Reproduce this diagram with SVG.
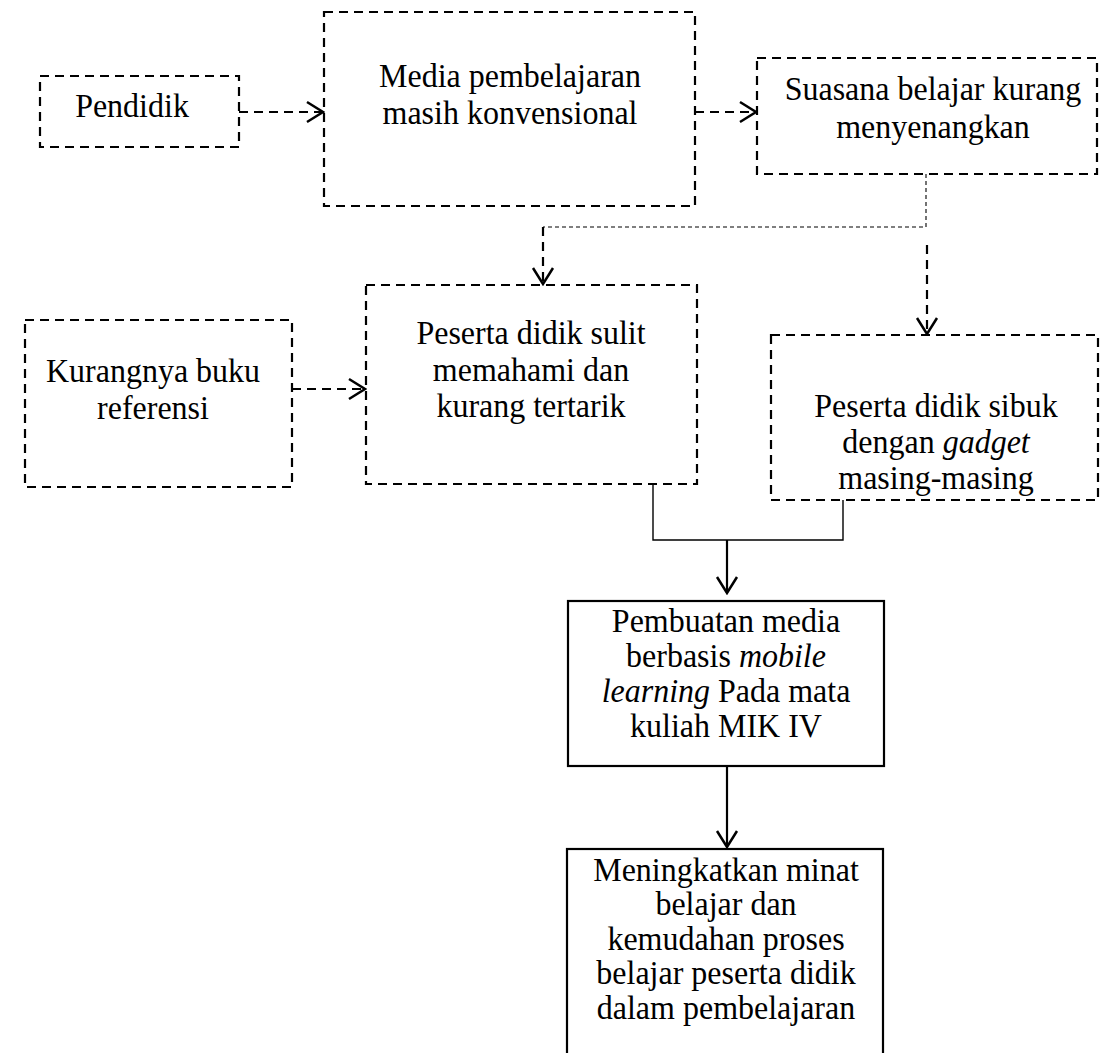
<svg xmlns="http://www.w3.org/2000/svg" width="1117" height="1053" viewBox="0 0 1117 1053">
<defs>
<marker id="arr" viewBox="0 0 20 24" refX="18" refY="12" markerWidth="20" markerHeight="24" markerUnits="userSpaceOnUse" orient="auto">
<path d="M2,2 L18,12 L2,22" fill="none" stroke="#000" stroke-width="2.5"/>
</marker>
</defs>
<style>
.db{fill:none;stroke:#000;stroke-width:2.2;stroke-dasharray:9 6}
.sb{fill:none;stroke:#000;stroke-width:2.2}
.dc{fill:none;stroke:#000;stroke-width:2.2;stroke-dasharray:9 6}
.tc{fill:none;stroke:#000;stroke-width:1.1;stroke-dasharray:4 3}
.sc{fill:none;stroke:#000;stroke-width:1.4}
.sa{fill:none;stroke:#000;stroke-width:2.2}
text{font-family:"Liberation Serif","Times New Roman",serif;font-size:33.5px;fill:#000;text-anchor:middle}
</style>
<rect width="1117" height="1053" fill="#fff"/>
<g id="pendidik"><rect class="db" x="40" y="76" width="199" height="71"/><g transform="translate(132,0) scale(0.955,1)"><text x="0" y="117">Pendidik</text></g></g>
<g id="media"><rect class="db" x="324" y="12" width="371" height="194"/><g transform="translate(510,0) scale(0.955,1)"><text x="0" y="87">Media pembelajaran</text><text x="0" y="124">masih konvensional</text></g></g>
<g id="suasana"><rect class="db" x="757" y="58" width="340" height="116"/><g transform="translate(933,0) scale(0.955,1)"><text x="0" y="100">Suasana belajar kurang</text><text x="0" y="138">menyenangkan</text></g></g>
<g id="kurangnya"><rect class="db" x="25" y="320" width="267" height="167"/><g transform="translate(153,0) scale(0.955,1)"><text x="0" y="382">Kurangnya buku</text><text x="0" y="419">referensi</text></g></g>
<g id="sulit"><rect class="db" x="366" y="285" width="331" height="199"/><g transform="translate(531,0) scale(0.955,1)"><text x="0" y="344">Peserta didik sulit</text><text x="0" y="381">memahami dan</text><text x="0" y="417">kurang tertarik</text></g></g>
<g id="sibuk"><rect class="db" x="771" y="335" width="327" height="165"/><g transform="translate(936,0) scale(0.955,1)"><text x="0" y="417">Peserta didik sibuk</text><text x="0" y="453">dengan <tspan font-style="italic">gadget</tspan></text><text x="0" y="489">masing-masing</text></g></g>
<g id="pembuatan"><rect class="sb" x="568" y="601" width="316" height="165"/><g transform="translate(726,0) scale(0.955,1)"><text x="0" y="632">Pembuatan media</text><text x="0" y="667">berbasis <tspan font-style="italic">mobile</tspan></text><text x="0" y="702"><tspan font-style="italic">learning</tspan> Pada mata</text><text x="0" y="737">kuliah MIK IV</text></g></g>
<g id="meningkatkan"><rect class="sb" x="567" y="849" width="316" height="220"/><g transform="translate(726,0) scale(0.955,1)"><text x="0" y="881">Meningkatkan minat</text><text x="0" y="915.5">belajar dan</text><text x="0" y="950">kemudahan proses</text><text x="0" y="984.5">belajar peserta didik</text><text x="0" y="1019">dalam pembelajaran</text></g></g>
<g id="connectors">
<path class="dc" d="M239,112 H323" marker-end="url(#arr)"/>
<path class="dc" d="M695,112 H756" marker-end="url(#arr)"/>
<path class="dc" d="M292,389 H365" marker-end="url(#arr)"/>
<path class="tc" d="M926,174 V227 H543"/>
<path class="dc" d="M543,227 V284" marker-end="url(#arr)"/>
<path class="dc" d="M927,245 V334" marker-end="url(#arr)"/>
<path class="sc" d="M653,484 V540 H843 V500"/>
<path class="sa" d="M727,540 V593" marker-end="url(#arr)"/>
<path class="sa" d="M727,766 V847" marker-end="url(#arr)"/>
</g>
</svg>
